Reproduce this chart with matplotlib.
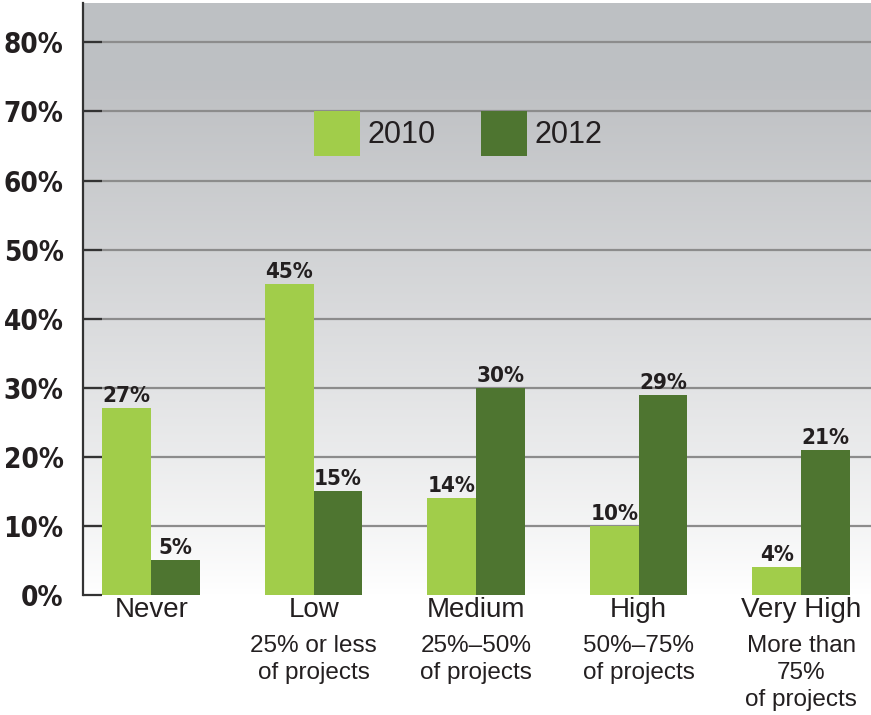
import numpy as np
import matplotlib.pyplot as plt
from matplotlib.patches import Patch

categories = ['Never', 'Low', 'Medium', 'High', 'Very High']
subtitles = ['', '25% or less\nof projects', '25%\u201350%\nof projects',
             '50%\u201375%\nof projects', 'More than\n75%\nof projects']
v2010 = [27, 45, 14, 10, 4]
v2012 = [5, 15, 30, 29, 21]
yticks = [0, 10, 20, 30, 40, 50, 60, 70, 80]

narrow = 'DejaVu Sans'
plain = 'Liberation Sans'

c10 = '#a1cd4a'
c12 = '#4e7530'
ink = '#231f20'

fig = plt.figure(figsize=(8.71, 7.15), dpi=100)
ax = fig.add_axes([83/871, 1-595/715, 788/871, 592/715])

# gradient background
grad = np.linspace(0, 1, 256).reshape(-1, 1)
top = np.array([0.745, 0.753, 0.765])
bot = np.array([1.0, 1.0, 1.0])
t = np.clip(grad * 1.15, 0, 1) ** 0.9
img = bot + (top - bot) * t
img = np.repeat(img[:, None, :], 2, axis=1)
ax.imshow(img, extent=[0, 1, 0, 1], transform=ax.transAxes, aspect='auto',
          origin='lower', zorder=0)

x = np.arange(len(categories))
w = 0.30
ax.bar(x - w/2, v2010, w, color=c10, zorder=3)
ax.bar(x + w/2, v2012, w, color=c12, zorder=3)

for i in range(len(x)):
    ax.text(x[i] - w/2, v2010[i] + 0.3, f'{v2010[i]}%', ha='center', va='bottom',
            family=narrow, fontstretch='condensed', fontweight='bold',
            fontsize=16, color=ink, zorder=4)
    ax.text(x[i] + w/2, v2012[i] + 0.3, f'{v2012[i]}%', ha='center', va='bottom',
            family=narrow, fontstretch='condensed', fontweight='bold',
            fontsize=16, color=ink, zorder=4)

for y in yticks[1:]:
    ax.axhline(y, color='#8c8c8c', lw=1.6, zorder=1)

ax.set_xlim(-0.42, 4.43)
ax.set_ylim(0, 85.7)
ax.set_yticks(yticks)
ax.set_yticklabels([f'{v}%' for v in yticks], family=narrow, fontstretch='condensed',
                   fontweight='bold', fontsize=20, color=ink)
ax.tick_params(axis='y', direction='in', length=14, width=1.6, color='#333333', pad=14)
ax.set_xticks([])
for s in ['top', 'right', 'bottom']:
    ax.spines[s].set_visible(False)
ax.spines['left'].set_color('#333333')
ax.spines['left'].set_linewidth(1.6)

for i in range(len(x)):
    ax.text(x[i], -0.3, categories[i], ha='center', va='top', family=plain,
            fontsize=20, color=ink, clip_on=False)
    if subtitles[i]:
        ax.text(x[i], -5.8, subtitles[i], ha='center', va='top', family=plain,
                fontsize=17.5, color=ink, linespacing=1.3, clip_on=False)

handles = [Patch(facecolor=c10, label='2010'), Patch(facecolor=c12, label='2012')]
leg = ax.legend(handles=handles, loc='center', bbox_to_anchor=(0.476, 0.78),
                ncol=2, frameon=False, fontsize=22, handlelength=1.5,
                handleheight=1.9, columnspacing=1.5, handletextpad=0.25)
for txt in leg.get_texts():
    txt.set_family(plain)
    txt.set_color(ink)

fig.savefig('out.png', dpi=100)
